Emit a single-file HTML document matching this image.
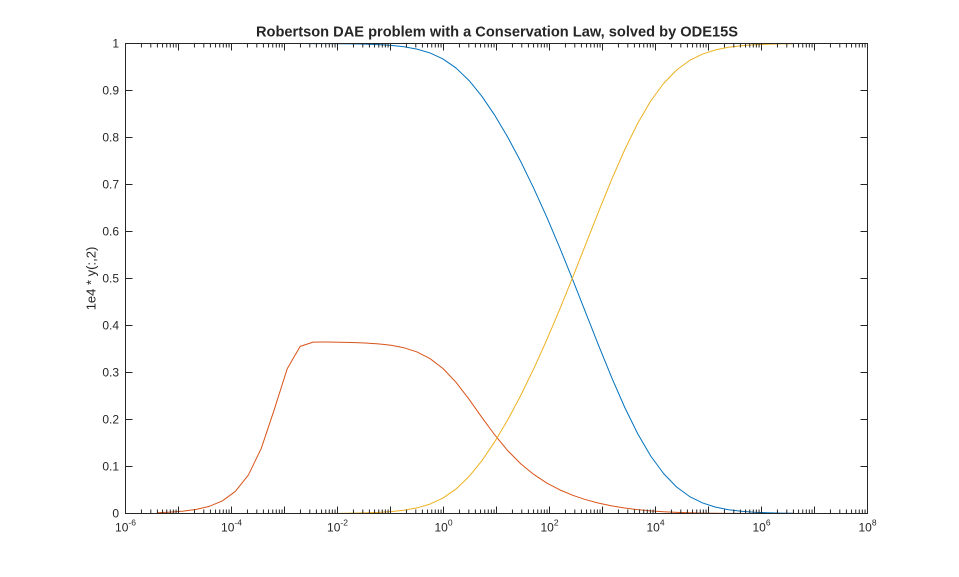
<!DOCTYPE html>
<html><head><meta charset="utf-8"><style>
html,body{margin:0;padding:0;background:#fff;}
svg{display:block;font-family:"Liberation Sans",Arial,Helvetica,sans-serif;}
</style></head><body>
<svg id="s" width="959" height="577" viewBox="0 0 959 577" xmlns="http://www.w3.org/2000/svg">
<rect width="959" height="577" fill="#fff"/>
<g id="curves" fill="none" stroke-width="1" stroke-linejoin="round" stroke-linecap="round"></g>
<g id="ticks" stroke="#262626" stroke-width="1" fill="none"></g>
<rect x="125.5" y="43.5" width="742" height="470" fill="none" stroke="#262626" stroke-width="1"/>
<g fill="#262626" font-size="12" text-anchor="end">
<text x="119" y="517.5">0</text>
<text x="119" y="470.5">0.1</text>
<text x="119" y="423.5">0.2</text>
<text x="119" y="376.5">0.3</text>
<text x="119" y="329.5">0.4</text>
<text x="119" y="282.5">0.5</text>
<text x="119" y="235.5">0.6</text>
<text x="119" y="188.5">0.7</text>
<text x="119" y="141.5">0.8</text>
<text x="119" y="94.5">0.9</text>
<text x="119" y="47.5">1</text>
</g>
<g fill="#262626" font-size="12" text-anchor="middle">
<text x="125.5" y="531.5">10<tspan font-size="8.5" dy="-6">-6</tspan></text>
<text x="231.5" y="531.5">10<tspan font-size="8.5" dy="-6">-4</tspan></text>
<text x="337.5" y="531.5">10<tspan font-size="8.5" dy="-6">-2</tspan></text>
<text x="443.5" y="531.5">10<tspan font-size="8.5" dy="-6">0</tspan></text>
<text x="549.5" y="531.5">10<tspan font-size="8.5" dy="-6">2</tspan></text>
<text x="655.5" y="531.5">10<tspan font-size="8.5" dy="-6">4</tspan></text>
<text x="761.5" y="531.5">10<tspan font-size="8.5" dy="-6">6</tspan></text>
<text x="867.5" y="531.5">10<tspan font-size="8.5" dy="-6">8</tspan></text>
</g>
<text x="497" y="36.5" font-size="14.5" font-weight="bold" fill="#262626" text-anchor="middle" textLength="482" lengthAdjust="spacingAndGlyphs">Robertson DAE problem with a Conservation Law, solved by ODE15S</text>
<text transform="translate(95.5,278.5) rotate(-90)" font-size="13" fill="#262626" text-anchor="middle">1e4 * y(:,2)</text>
</svg>
<script>
(function(){
  var NS="http://www.w3.org/2000/svg";
  // ticks
  var d="";
  var X0=125.5, PD=53, YB=513.5, YT=43.5, XR=867.5;
  for(var dec=-6;dec<=8;dec++){
    var xd=X0+(dec+6)*PD;
    if(dec>-6&&dec<8){
      d+="M"+xd+" "+YB+"V"+(YB-7)+"M"+xd+" "+YT+"V"+(YT+7);
    }
    if(dec<8){
      for(var k=2;k<=9;k++){
        var xm=(xd+Math.log10(k)*PD).toFixed(2);
        d+="M"+xm+" "+YB+"V"+(YB-4)+"M"+xm+" "+YT+"V"+(YT+4);
      }
    }
  }
  for(var i=1;i<10;i++){
    var yy=YB-47*i;
    d+="M"+X0+" "+yy+"H"+(X0+7)+"M"+XR+" "+yy+"H"+(XR-7);
  }
  var tp=document.createElementNS(NS,"path");
  tp.setAttribute("d",d);
  document.getElementById("ticks").appendChild(tp);

  // Robertson solver (implicit Euler)
  function solve3(J,F){
    var a=[[J[0][0],J[0][1],J[0][2],F[0]],[J[1][0],J[1][1],J[1][2],F[1]],[J[2][0],J[2][1],J[2][2],F[2]]];
    for(var i=0;i<3;i++){
      var p=i;
      for(var k=i+1;k<3;k++) if(Math.abs(a[k][i])>Math.abs(a[p][i])) p=k;
      var t=a[i];a[i]=a[p];a[p]=t;
      for(var k2=i+1;k2<3;k2++){
        var m=a[k2][i]/a[i][i];
        for(var j=i;j<4;j++) a[k2][j]-=m*a[i][j];
      }
    }
    var x=[0,0,0];
    for(var i2=2;i2>=0;i2--){
      var s=a[i2][3];
      for(var j2=i2+1;j2<3;j2++) s-=a[i2][j2]*x[j2];
      x[i2]=s/a[i2][i2];
    }
    return x;
  }
  function be(y,h){
    var z=[y[0],y[1],y[2]];
    for(var it=0;it<30;it++){
      var a=z[0],b=z[1],c=z[2];
      var F=[a-y[0]-h*(-0.04*a+1e4*b*c),
             b-y[1]-h*(0.04*a-1e4*b*c-3e7*b*b),
             c-y[2]-h*(3e7*b*b)];
      var J=[[1+0.04*h,-1e4*h*c,-1e4*h*b],
             [-0.04*h,1+h*(1e4*c+6e7*b),1e4*h*b],
             [0,-6e7*h*b,1]];
      var dd=solve3(J,F);
      z=[a-dd[0],b-dd[1],c-dd[2]];
      if(Math.abs(dd[0])+Math.abs(dd[1])*1e4+Math.abs(dd[2])<1e-14) break;
    }
    return z;
  }
  var ts=[];
  for(var k=0;k<50;k++) ts.push(4*Math.pow(10,-6+12*k/49));
  var y=[1,0,0], t=0, res=[];
  var N=2000;
  for(var k=0;k<50;k++){
    var h=(ts[k]-t)/N;
    for(var n=0;n<N;n++) y=be(y,h);
    t=ts[k];
    res.push([t,y[0],y[1]*1e4,y[2]]);
  }
  var cols=["#0072BD","#D95319","#EDB120"];
  var g=document.getElementById("curves");
  for(var s=0;s<3;s++){
    var pts=[];
    for(var k=0;k<res.length;k++){
      var px=X0+(Math.log10(res[k][0])+6)*PD;
      var py=YB-res[k][s+1]*470;
      pts.push(px.toFixed(2)+","+py.toFixed(2));
    }
    var pl=document.createElementNS(NS,"polyline");
    pl.setAttribute("points",pts.join(" "));
    pl.setAttribute("stroke",cols[s]);
    g.appendChild(pl);
  }
})();
</script>
</body></html>
